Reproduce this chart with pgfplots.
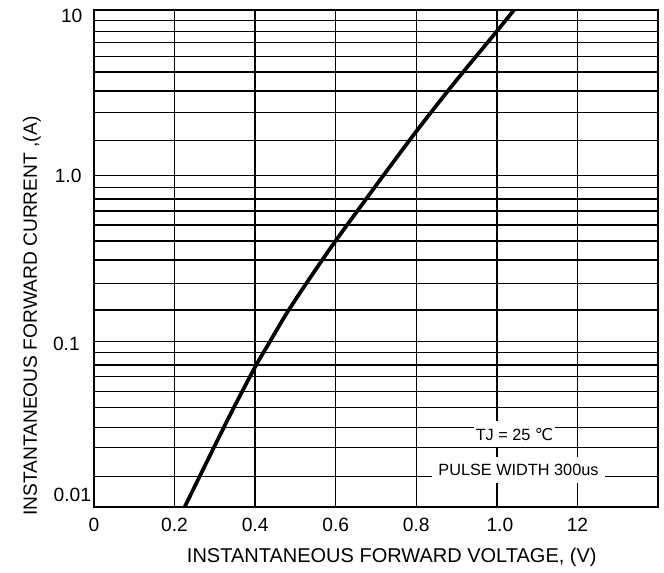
\documentclass[border=0pt]{standalone}
\usepackage{fontspec}
\setmainfont{Liberation Sans}
\newfontfamily\dejavu{DejaVu Sans}
\usepackage{pgfplots}
\pgfplotsset{compat=1.18}

\begin{document}
\begin{tikzpicture}
\begin{axis}[
  name=ax,
  scale only axis,
  width=423pt, height=372.75pt,
  ymode=log,
  xmin=0, xmax=1.4, ymin=0.01, ymax=10,
  xtick={0,0.2,0.4,0.6,0.8,1.0,1.2},
  xticklabels={0\hspace{7.5pt}, 0.2\hspace{19.5pt}, 0.4\hspace{10.5pt}, 0.6\hspace{10.5pt},
               0.8\hspace{10.5pt}, \hspace{4.5pt}1.0, 12\hspace{9pt}},
  ytick={0.01,0.1,1,10},
  yticklabels={\raisebox{3.85pt}{0.01\hspace{-6pt}}, \raisebox{-7.2pt}{0.1\hspace{2.5pt}},
               \raisebox{-5.15pt}{1.0\hspace{1.2pt}}, \raisebox{-9.25pt}{10\hspace{0.5pt}}},
  minor ytick={},
  % the datasheet's own (not quite logarithmic) minor grid lines
  extra y ticks={0.01526,0.02278,0.03018,0.04002,0.04985,0.06107,0.07193,0.08601,0.1549,0.2244,0.3101,0.4036,0.5040,0.6120,0.7228,0.8502,1.632,2.413,3.249,4.220,5.217,6.376,7.419,8.630},
  extra y tick labels={},
  extra y tick style={grid=major},
  major tick length=0pt, minor tick length=0pt,
  xmajorgrids, ymajorgrids,
  grid style={black, line width=1pt},
  axis line style={black, line width=1.2pt},
  tick label style={font=\fontsize{14.4}{17}\selectfont, text=black},
  xticklabel style={anchor=north, inner sep=0pt, yshift=-8.25pt},
  yticklabel style={anchor=base east, inner sep=0pt, xshift=-8pt},
  xlabel={INSTANTANEOUS FORWARD VOLTAGE, (V)},
  ylabel={INSTANTANEOUS FORWARD CURRENT ,(A)},
  xlabel style={font=\fontsize{15}{18}\selectfont, at={(axis description cs:0.528,-0.1006)}, anchor=center},
  ylabel style={font=\fontsize{14.4}{17}\selectfont, at={(axis description cs:-0.110,0.384)}, anchor=center},
]
% forward characteristic
\addplot[black, line width=2.8pt, smooth] coordinates {
  (0.225,0.0100) (0.295,0.0222) (0.344,0.0385) (0.400,0.0700)
  (0.435,0.098) (0.480,0.150) (0.533,0.235) (0.600,0.405)
  (0.718,1.00) (0.800,1.85) (0.894,3.62) (1.000,7.45) (1.044,10.1)
};
\node[fill=white, inner sep=0pt, minimum width=61pt, minimum height=19.5pt,
      font=\fontsize{12.2}{14}\selectfont] at (axis cs:1.0438,0.02747) {TJ = 25 {\dejavu ℃}};
\node[fill=white, inner sep=0pt, minimum width=130pt, minimum height=19.5pt,
      font=\fontsize{12.2}{14}\selectfont] at (axis cs:1.0537,0.01677) {PULSE WIDTH 300us};
\end{axis}
\path ([xshift=-70.5pt, yshift=-49.5pt]ax.south west) rectangle ([xshift=4.5pt, yshift=7.5pt]ax.north east);
\end{tikzpicture}
\end{document}
